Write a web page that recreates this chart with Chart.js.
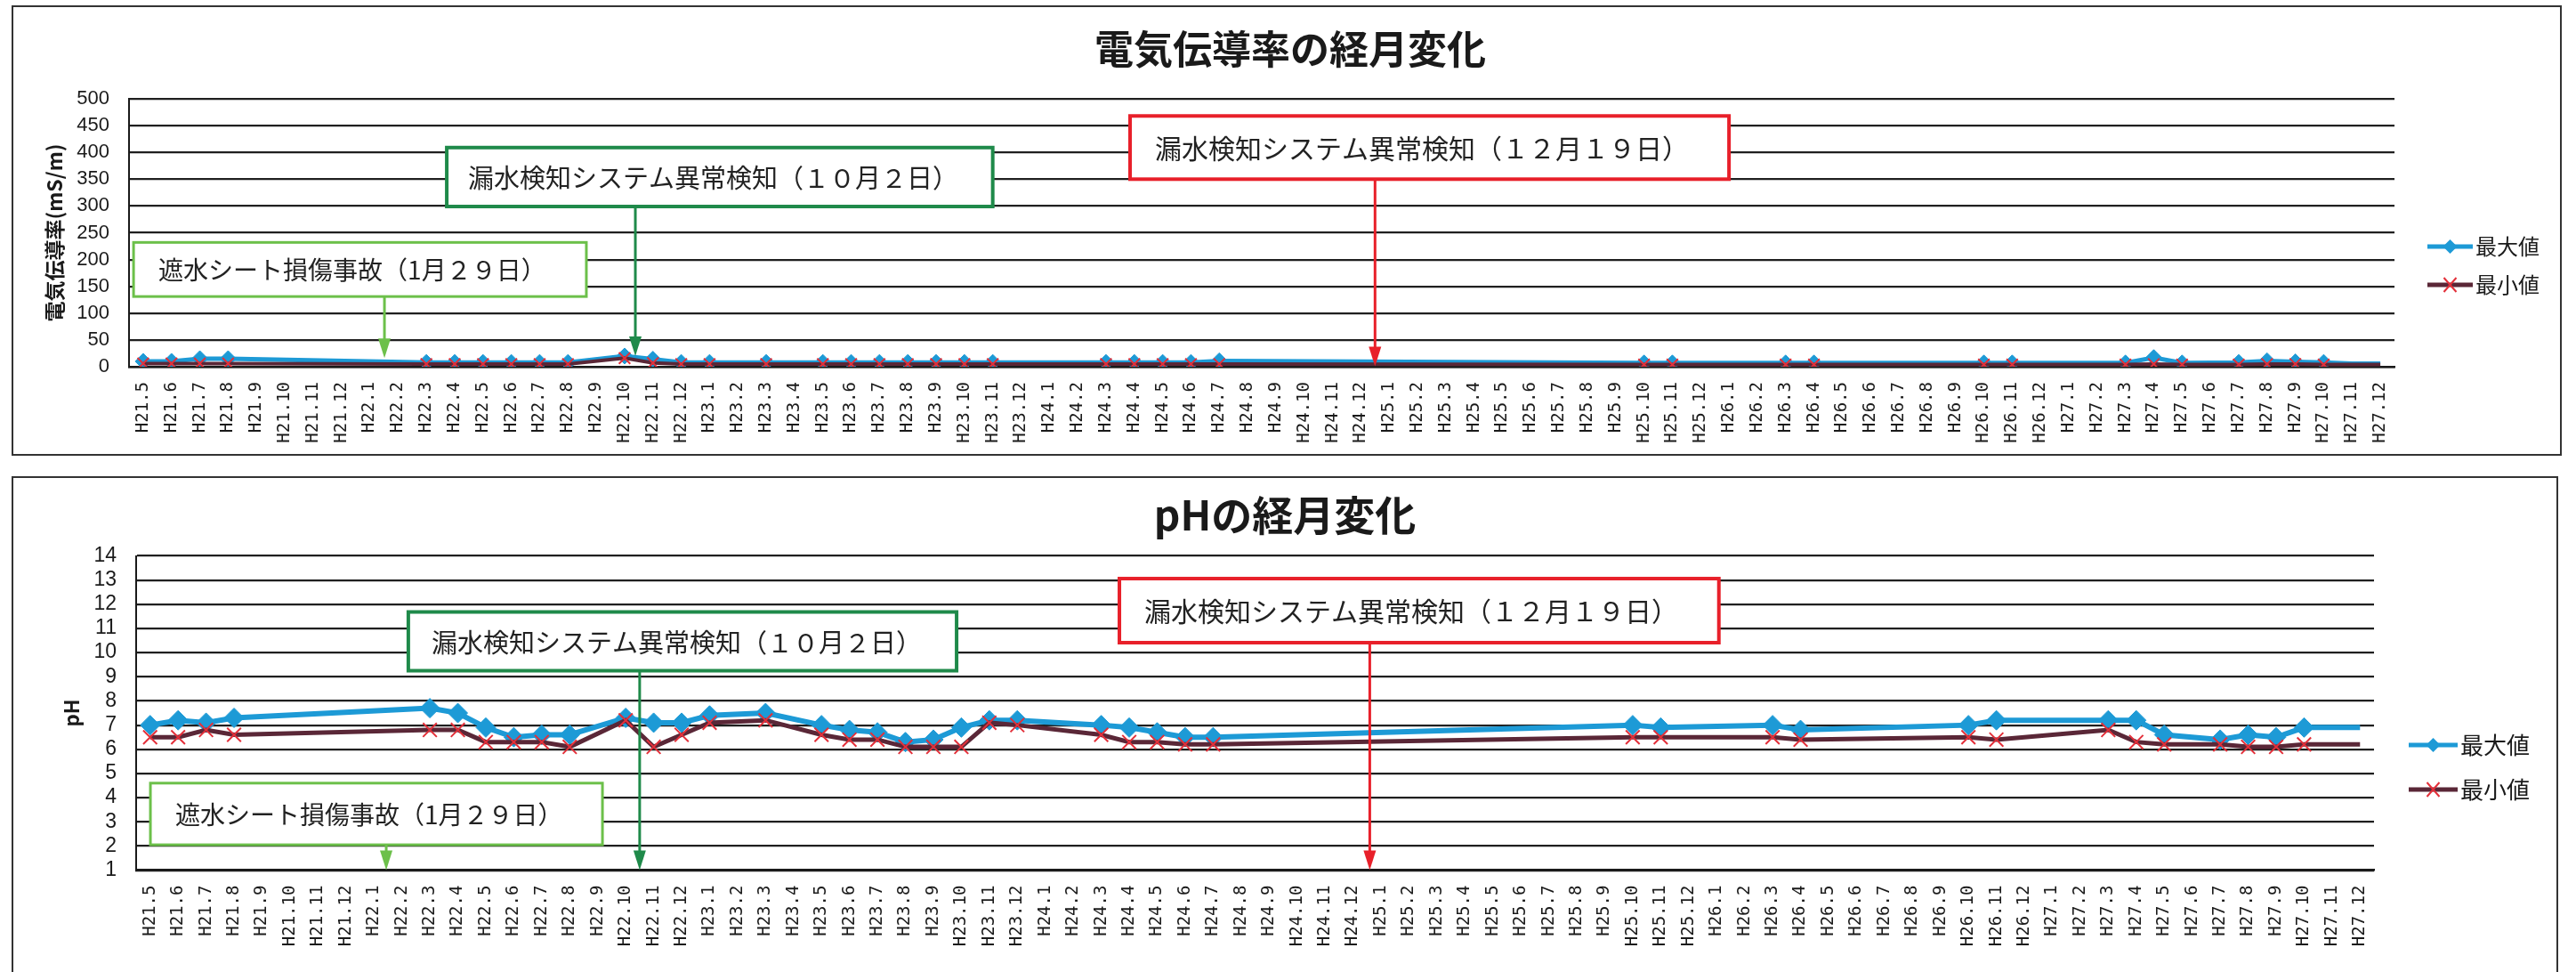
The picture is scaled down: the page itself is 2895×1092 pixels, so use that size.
<!DOCTYPE html>
<html>
<head>
<meta charset="utf-8">
<script src="https://cdn.jsdelivr.net/npm/chart.js@4.4.0/dist/chart.umd.min.js"></script>
<style>
  body { margin: 0; background: #fff; width: 2895px; height: 1092px; overflow: hidden; position: relative; }
  .box { position: absolute; border: 2px solid #333; background: #fff; }
  #b1 { left: 13px; top: 6px; }
  #b2 { left: 13px; top: 535px; border-bottom: none; }
  canvas { display: block; }
</style>
</head>
<body>
<div class="box" id="b1"><canvas id="ec" width="2862" height="502"></canvas></div>
<div class="box" id="b2"><canvas id="ph" width="2858" height="560"></canvas></div>
<script>
// months H21.5 - H27.12
var months = [
  'H21.5','H21.6','H21.7','H21.8','H21.9','H21.10','H21.11','H21.12',
  'H22.1','H22.2','H22.3','H22.4','H22.5','H22.6','H22.7','H22.8','H22.9','H22.10','H22.11','H22.12',
  'H23.1','H23.2','H23.3','H23.4','H23.5','H23.6','H23.7','H23.8','H23.9','H23.10','H23.11','H23.12',
  'H24.1','H24.2','H24.3','H24.4','H24.5','H24.6','H24.7','H24.8','H24.9','H24.10','H24.11','H24.12',
  'H25.1','H25.2','H25.3','H25.4','H25.5','H25.6','H25.7','H25.8','H25.9','H25.10','H25.11','H25.12',
  'H26.1','H26.2','H26.3','H26.4','H26.5','H26.6','H26.7','H26.8','H26.9','H26.10','H26.11','H26.12',
  'H27.1','H27.2','H27.3','H27.4','H27.5','H27.6','H27.7','H27.8','H27.9','H27.10','H27.11','H27.12'
];

// 電気伝導率 (mS/m)
var ecMax = [
  10, 10, 15, 15, null, null, null, null,
  null, null, 8, 8, 8, 8, 8, 8, null, 20, 14, 8,
  8, null, 8, null, 8, 8, 8, 8, 8, 8, 8, null,
  null, null, 8, 8, 8, 8, 11, null, null, null, null, null,
  null, null, null, null, null, null, null, null, null, 7, 7, null,
  null, null, 7, 7, null, null, null, null, null, 7, 7, null,
  null, null, 7, 17, 7, null, 8, 11, 9, 8, 6, 6
];
var ecMin = [
  6, 6, 6, 6, null, null, null, null,
  null, null, 5, 5, 5, 5, 5, 5, null, 16, 7, 5,
  5, null, 5, null, 5, 5, 5, 5, 5, 5, 5, null,
  null, null, 5, 5, 5, 5, 5, null, null, null, null, null,
  null, null, null, null, null, null, null, null, null, 4, 4, null,
  null, null, 4, 4, null, null, null, null, null, 4, 4, null,
  null, null, 4, 5, 4, null, 4, 5, 5, 4, 4, 4
];

// pH
var phMax = [
  7.0, 7.2, 7.1, 7.3, null, null, null, null,
  null, null, 7.7, 7.5, 6.9, 6.5, 6.6, 6.6, null, 7.3, 7.1, 7.1,
  7.4, null, 7.5, null, 7.0, 6.8, 6.7, 6.3, 6.4, 6.9, 7.2, 7.2,
  null, null, 7.0, 6.9, 6.7, 6.5, 6.5, null, null, null, null, null,
  null, null, null, null, null, null, null, null, null, 7.0, 6.9, null,
  null, null, 7.0, 6.8, null, null, null, null, null, 7.0, 7.2, null,
  null, null, 7.2, 7.2, 6.6, null, 6.4, 6.6, 6.5, 6.9, 6.9, 6.9
];
var phMin = [
  6.5, 6.5, 6.8, 6.6, null, null, null, null,
  null, null, 6.8, 6.8, 6.3, 6.3, 6.3, 6.1, null, 7.2, 6.1, 6.6,
  7.1, null, 7.2, null, 6.6, 6.4, 6.4, 6.1, 6.1, 6.1, 7.1, 7.0,
  null, null, 6.6, 6.3, 6.3, 6.2, 6.2, null, null, null, null, null,
  null, null, null, null, null, null, null, null, null, 6.5, 6.5, null,
  null, null, 6.5, 6.4, null, null, null, null, null, 6.5, 6.4, null,
  null, null, 6.8, 6.3, 6.2, null, 6.2, 6.1, 6.1, 6.2, 6.2, 6.2
];

// last two months: line only, no marker
var noMarker = ['H27.11', 'H27.12'];

var BLUE = '#1d9ad6', DARK = '#5a2737', RED = '#e3303a';
var GREEN_L = '#6cc04a', GREEN_D = '#1f8a4a', RED_BOX = '#e8202a';
var JP = "'Noto Sans CJK JP', sans-serif";

Chart.defaults.font.family = JP;

function markerSize(r) {
  return function (c) { return noMarker.indexOf(months[c.dataIndex]) >= 0 ? 0 : r; };
}

// boxes + arrows, placed with the chart's own scales
function notesPlugin(notes) {
  return {
    id: 'notes',
    afterDraw: function (chart) {
      var ctx = chart.ctx, x = chart.scales.x, y = chart.scales.y;
      notes.forEach(function (n) {
        var l = x.getPixelForValue(n.x0), r = x.getPixelForValue(n.x1);
        var t = y.getPixelForValue(n.y0), b = y.getPixelForValue(n.y1);
        var ax = x.getPixelForValue(n.ax), ay = y.getPixelForValue(n.ay);
        ctx.save();
        // arrow
        ctx.strokeStyle = n.color; ctx.fillStyle = n.color; ctx.lineWidth = 3;
        ctx.beginPath(); ctx.moveTo(ax, b); ctx.lineTo(ax, ay - 20); ctx.stroke();
        ctx.beginPath(); ctx.moveTo(ax - 7, ay - 22); ctx.lineTo(ax + 7, ay - 22); ctx.lineTo(ax, ay); ctx.closePath(); ctx.fill();
        // box
        ctx.fillStyle = '#fff';
        ctx.fillRect(l, t, r - l, b - t);
        ctx.lineWidth = n.lw || 4;
        ctx.strokeRect(l, t, r - l, b - t);
        ctx.fillStyle = '#222';
        ctx.font = n.size + 'px ' + JP;
        ctx.textAlign = 'left'; ctx.textBaseline = 'middle';
        ctx.fillText(n.text, l + n.pad, (t + b) / 2 + 1);
        ctx.restore();
      });
    }
  };
}

// title and legend
function decoPlugin(d) {
  return {
    id: 'deco',
    afterDraw: function (chart) {
      var ctx = chart.ctx, right = chart.chartArea.right;
      ctx.save();
      ctx.fillStyle = '#1a1a1a';
      ctx.font = 'bold ' + d.titleSize + 'px ' + JP;
      ctx.textAlign = 'center'; ctx.textBaseline = 'middle';
      ctx.fillText(d.title, chart.width / 2 + d.titleDx, d.titleY);

      var x0 = right + d.legX, x1 = x0 + d.legLen, cx = (x0 + x1) / 2;
      ctx.font = d.legSize + 'px ' + JP;
      ctx.textAlign = 'left';
      // 最大値
      ctx.strokeStyle = BLUE; ctx.lineWidth = 5;
      ctx.beginPath(); ctx.moveTo(x0, d.legY[0]); ctx.lineTo(x1, d.legY[0]); ctx.stroke();
      ctx.fillStyle = BLUE;
      ctx.beginPath();
      ctx.moveTo(cx, d.legY[0] - 8); ctx.lineTo(cx + 8, d.legY[0]); ctx.lineTo(cx, d.legY[0] + 8); ctx.lineTo(cx - 8, d.legY[0]);
      ctx.closePath(); ctx.fill();
      ctx.fillStyle = '#1a1a1a';
      ctx.fillText('最大値', x1 + 3, d.legY[0]);
      // 最小値
      ctx.strokeStyle = DARK; ctx.lineWidth = 5;
      ctx.beginPath(); ctx.moveTo(x0, d.legY[1]); ctx.lineTo(x1, d.legY[1]); ctx.stroke();
      ctx.strokeStyle = RED; ctx.lineWidth = 2;
      ctx.beginPath();
      ctx.moveTo(cx - 7, d.legY[1] - 8); ctx.lineTo(cx + 7, d.legY[1] + 8);
      ctx.moveTo(cx + 7, d.legY[1] - 8); ctx.lineTo(cx - 7, d.legY[1] + 8);
      ctx.stroke();
      ctx.fillStyle = '#1a1a1a';
      ctx.fillText('最小値', x1 + 3, d.legY[1]);
      ctx.restore();
    }
  };
}

function buildChart(id, s) {
  return new Chart(document.getElementById(id), {
    type: 'line',
    data: {
      labels: months,
      datasets: [
        {
          label: '最大値', data: s.max, order: 1,
          borderColor: BLUE, backgroundColor: BLUE, borderWidth: s.lw,
          pointStyle: 'rectRot', pointRadius: markerSize(s.r), pointBorderWidth: 1,
          pointBackgroundColor: BLUE, pointBorderColor: BLUE,
          spanGaps: true, tension: 0
        },
        {
          label: '最小値', data: s.min, order: 0,
          borderColor: DARK, backgroundColor: DARK, borderWidth: s.lw - 1,
          pointStyle: 'crossRot', pointRadius: markerSize(s.r), pointBorderWidth: 2,
          pointBackgroundColor: RED, pointBorderColor: RED,
          spanGaps: true, tension: 0
        }
      ]
    },
    options: {
      responsive: false,
      animation: false,
      layout: { padding: { top: s.top, right: s.right, left: 0, bottom: 0 } },
      plugins: { legend: { display: false }, tooltip: { enabled: false } },
      scales: {
        x: {
          offset: true,
          grid: { display: false, drawTicks: false },
          border: { display: true, color: '#1a1a1a', width: 2.5 },
          ticks: {
            autoSkip: false, minRotation: 90, maxRotation: 90, padding: 17,
            color: '#1a1a1a', font: { family: "'DejaVu Sans Mono', monospace", size: 19 }
          },
          afterFit: function (sc) { sc.height = s.xh; }
        },
        y: {
          min: s.ymin, max: s.ymax,
          ticks: { stepSize: s.step, autoSkip: false, padding: 22, color: '#1a1a1a', font: { family: "'Liberation Sans', sans-serif", size: s.tick } },
          grid: { color: '#1f1f1f', lineWidth: 2.2, drawTicks: false },
          border: { display: true, color: '#1a1a1a', width: 2 },
          title: { display: true, text: s.ytitle, color: '#1a1a1a', font: { size: s.ytSize, weight: 'bold' }, padding: { top: s.ytPad, bottom: 0 } },
          afterFit: function (sc) { sc.width = s.yw; }
        }
      }
    },
    plugins: [notesPlugin(s.notes), decoPlugin(s.deco)]
  });
}

buildChart('ec', {
  max: ecMax, min: ecMin, ymin: 0, ymax: 500, step: 50, tick: 22,
  ytitle: '電気伝導率(mS/m)', ytSize: 23, ytPad: 32,
  top: 103, right: 186, xh: 98, yw: 130, lw: 5, r: 9,
  deco: { title: '電気伝導率の経月変化', titleSize: 44, titleY: 47, titleDx: 4, legX: 37, legLen: 51, legSize: 24, legY: [269, 312] },
  notes: [
    { x0: -0.34, x1: 15.65, y0: 232, y1: 131, ax: 8.52, ay: 16, color: GREEN_L, lw: 3, size: 28, pad: 28, text: '遮水シート損傷事故（1月２９日）' },
    { x0: 10.72, x1: 30.0, y0: 409, y1: 299, ax: 17.38, ay: 20, color: GREEN_D, size: 29, pad: 24, text: '漏水検知システム異常検知（１０月２日）' },
    { x0: 34.85, x1: 56.0, y0: 468, y1: 350, ax: 43.5, ay: 1, color: RED_BOX, size: 30, pad: 28, text: '漏水検知システム異常検知（１２月１９日）' }
  ]
});

buildChart('ph', {
  max: phMax, min: phMin, ymin: 1, ymax: 14, step: 1, tick: 23,
  ytitle: 'pH', ytSize: 22, ytPad: 52,
  top: 87.5, right: 205, xh: 119.4, yw: 138, lw: 6, r: 11,
  deco: { title: 'pHの経月変化', titleSize: 46, titleY: 42, titleDx: 0, legX: 39, legLen: 55, legSize: 26, legY: [300, 350] },
  notes: [
    { x0: 0.01, x1: 16.17, y0: 4.6, y1: 2.05, ax: 8.44, ay: 1, color: GREEN_L, lw: 3, size: 28, pad: 28, text: '遮水シート損傷事故（1月２９日）' },
    { x0: 9.23, x1: 28.83, y0: 11.68, y1: 9.25, ax: 17.5, ay: 1, color: GREEN_D, size: 29, pad: 26, text: '漏水検知システム異常検知（１０月２日）' },
    { x0: 34.65, x1: 56.08, y0: 13.06, y1: 10.41, ax: 43.6, ay: 1, color: RED_BOX, size: 30, pad: 28, text: '漏水検知システム異常検知（１２月１９日）' }
  ]
});
</script>
</body>
</html>
